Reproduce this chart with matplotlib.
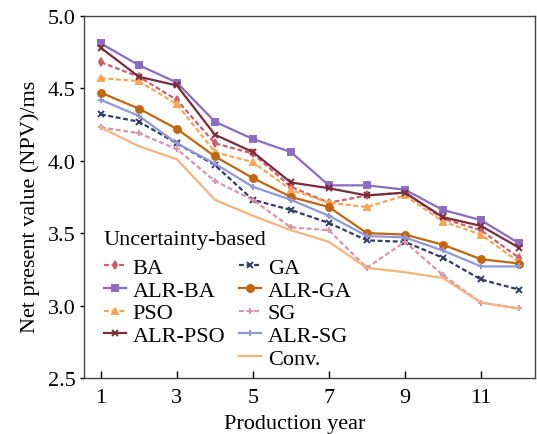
import matplotlib
matplotlib.use('Agg')
import matplotlib.pyplot as plt
from matplotlib.lines import Line2D

plt.rcParams['font.family'] = 'Liberation Serif'
plt.rcParams['font.size'] = 16

years = list(range(1, 13))

ba      = [4.68, 4.58, 4.42, 4.12, 4.05, 3.82, 3.71, 3.76, 3.78, 3.60, 3.52, 3.33]
alr_ba  = [4.81, 4.66, 4.54, 4.27, 4.15, 4.06, 3.83, 3.83, 3.80, 3.66, 3.59, 3.43]
pso     = [4.57, 4.55, 4.39, 4.06, 3.99, 3.80, 3.71, 3.68, 3.76, 3.58, 3.49, 3.30]
alr_pso = [4.78, 4.58, 4.52, 4.18, 4.06, 3.85, 3.81, 3.76, 3.78, 3.61, 3.55, 3.40]
ga      = [4.32, 4.27, 4.12, 3.97, 3.73, 3.66, 3.57, 3.45, 3.44, 3.33, 3.18, 3.11]
alr_ga  = [4.47, 4.36, 4.22, 4.03, 3.88, 3.75, 3.68, 3.50, 3.49, 3.42, 3.32, 3.29]
sg      = [4.23, 4.19, 4.08, 3.86, 3.73, 3.54, 3.52, 3.26, 3.44, 3.21, 3.02, 2.98]
alr_sg  = [4.42, 4.31, 4.12, 3.98, 3.82, 3.73, 3.62, 3.48, 3.47, 3.38, 3.27, 3.27]
conv    = [4.23, 4.10, 4.01, 3.73, 3.62, 3.52, 3.44, 3.26, 3.23, 3.19, 3.02, 2.98]

# (label, values, colour, linestyle, marker, markersize)
series = [
    ('BA',      ba,      '#cf5f6e', '--', 'd', 4),
    ('ALR-BA',  alr_ba,  '#8a6cc0', '-',  's', 5),
    ('PSO',     pso,     '#f7a655', '--', '^', 4),
    ('ALR-PSO', alr_pso, '#7b2c3c', '-',  'x', 5),
    ('GA',      ga,      '#333c68', '--', 'x', 4),
    ('ALR-GA',  alr_ga,  '#c2660f', '-',  'o', 5),
    ('SG',      sg,      '#d996ab', '--', '+', 5),
    ('ALR-SG',  alr_sg,  '#9098d8', '-',  '+', 4),
    ('Conv.',   conv,    '#f6b47c', '-',  '',  4),
]

fig = plt.figure(figsize=(5.37, 4.35), dpi=100)
ax = fig.add_axes([0.156, 0.129, 0.84, 0.832])

handles = []
for label, vals, color, ls, mk, ms in series:
    h, = ax.plot(years, vals, color=color, linestyle=ls, marker=mk,
                 markersize=ms, linewidth=1.6, markeredgewidth=1.4,
                 dashes=(2.2, 1.2) if ls == '--' else (None, None),
                 label=label)
    handles.append(h)

ax.set_xlim(0.55, 12.42)
ax.set_ylim(2.5, 5.0)
ax.set_xticks([1, 3, 5, 7, 9, 11])
ax.set_yticks([2.5, 3.0, 3.5, 4.0, 4.5, 5.0])
ax.tick_params(axis='x', direction='in', length=5, width=1, pad=7)
ax.tick_params(axis='y', direction='out', length=3, width=1, pad=3)
for s in ax.spines.values():
    s.set_color('#444444')
    s.set_linewidth(1.0)

ax.set_xlabel('Production year')
ax.set_ylabel('Net present value (NPV)/ms')
ax.xaxis.set_label_coords(0.468, -0.1)
ax.yaxis.set_label_coords(-0.097, 0.475)

# blank slot so the first column holds four entries
blank = Line2D([], [], linestyle='none')
leg_handles = handles[:4] + [blank] + handles[4:]
leg_labels = [s[0] for s in series[:4]] + [''] + [s[0] for s in series[4:]]
leg = ax.legend(leg_handles, leg_labels, ncol=2, loc='lower left',
                bbox_to_anchor=(0.025, 0.0), frameon=False,
                title='Uncertainty-based', title_fontsize=16, alignment='left',
                handlelength=1.0, handletextpad=0.3, columnspacing=0.6,
                labelspacing=0.1, borderaxespad=0.2, borderpad=0.2)
leg._legend_box.sep = 6

fig.savefig('out.png', dpi=100)
